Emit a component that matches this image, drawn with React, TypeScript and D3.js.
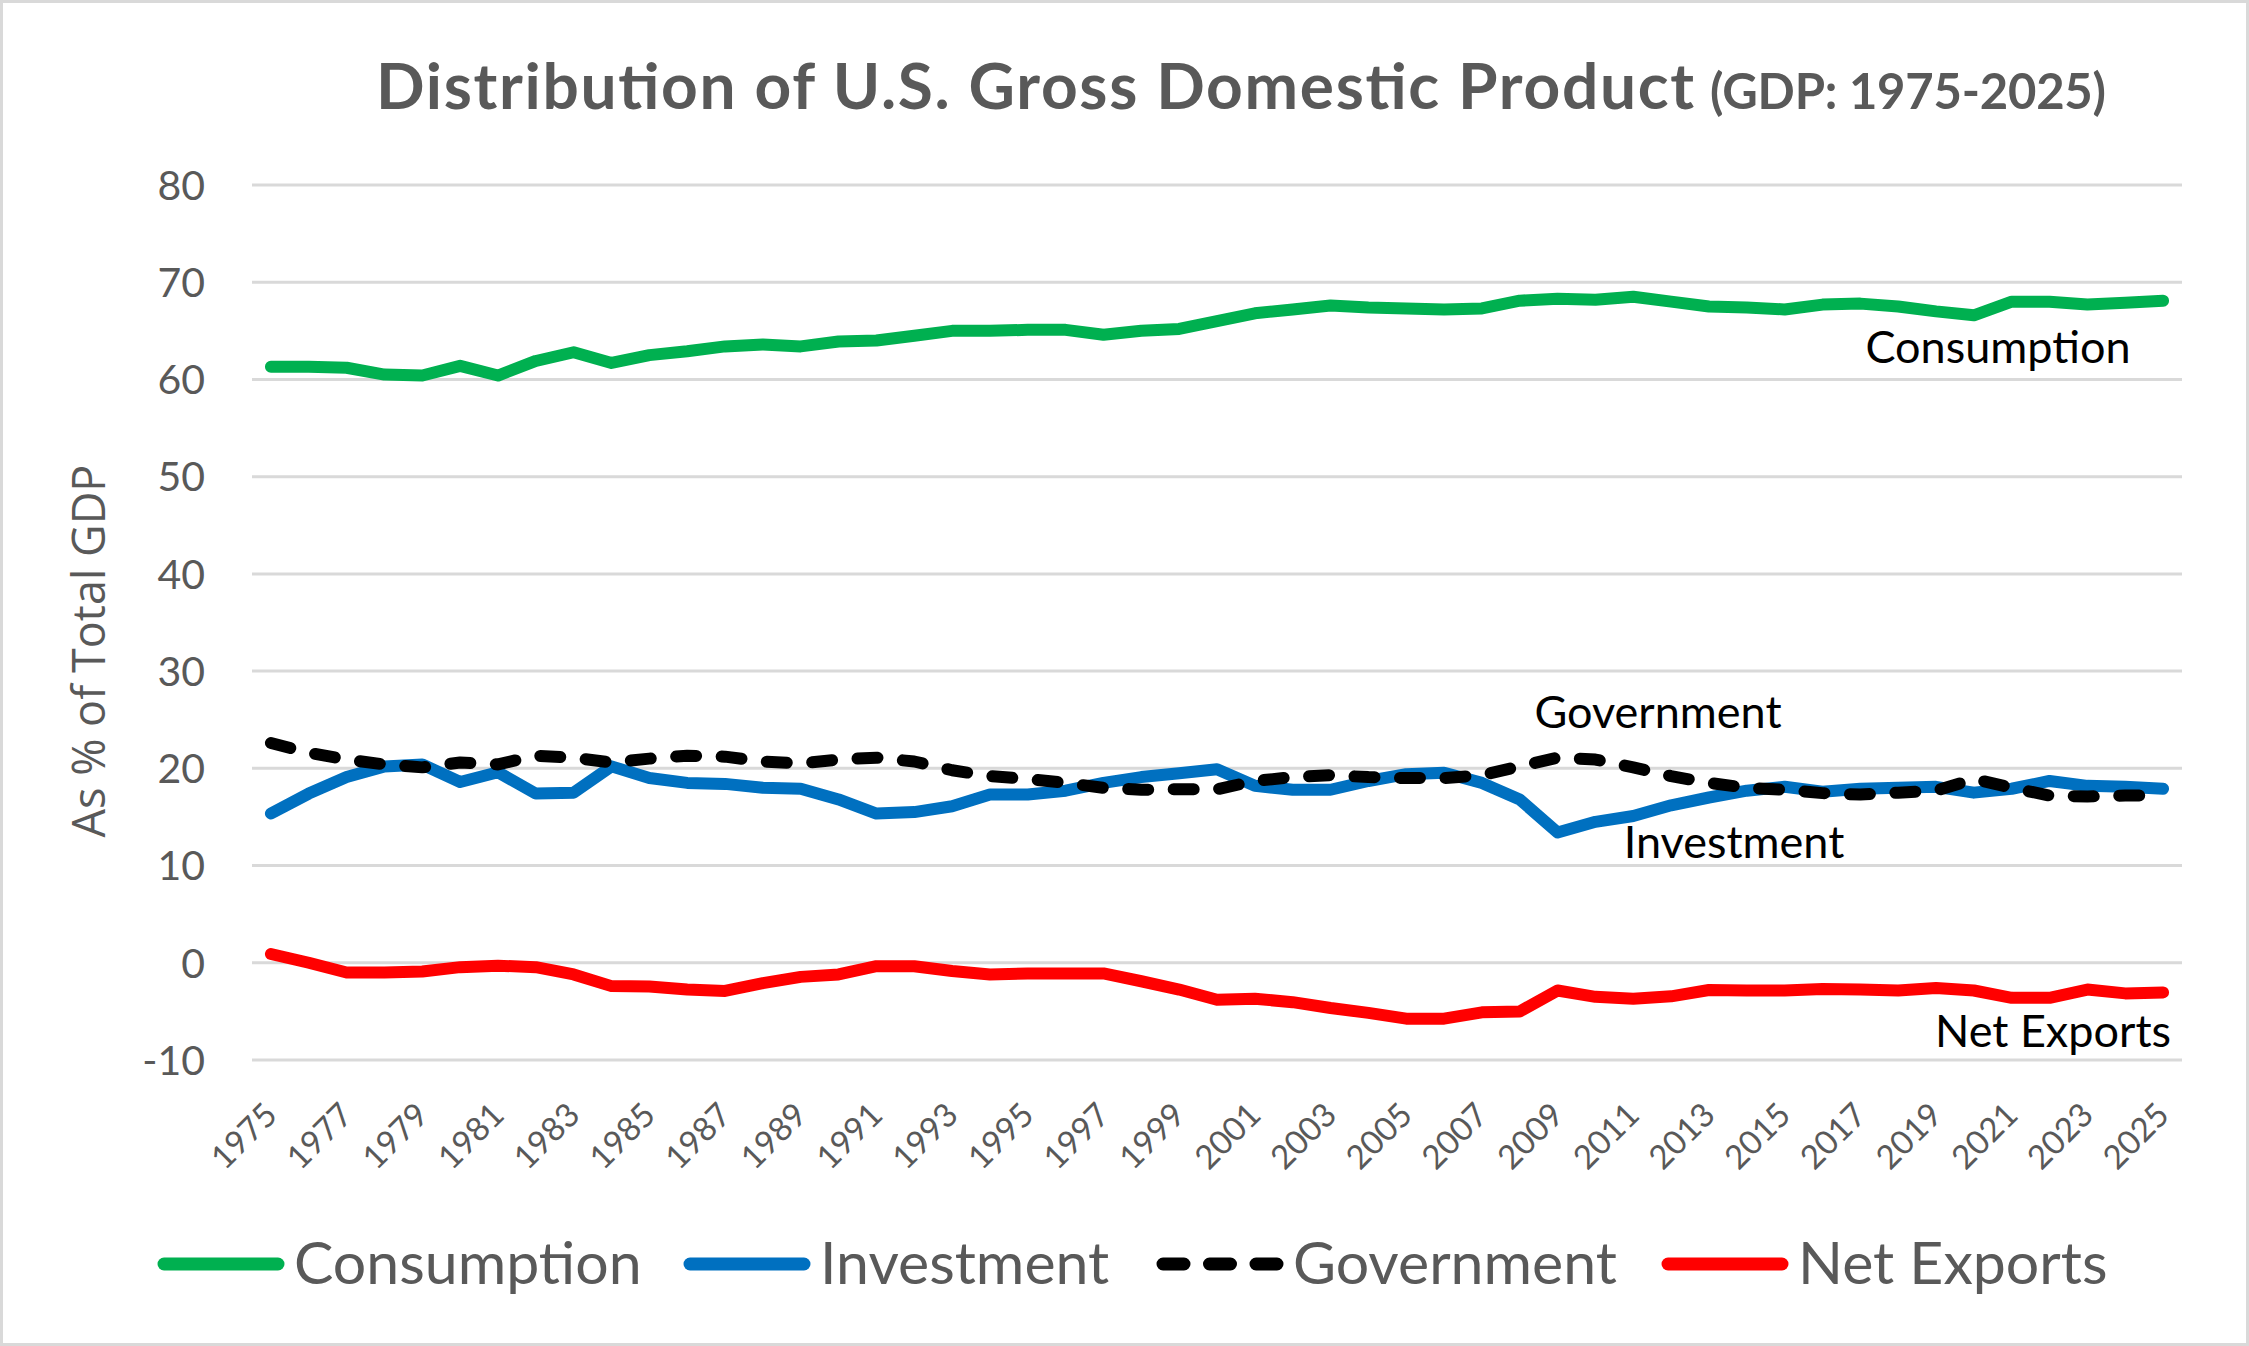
import * as d3 from "d3";

const width = 2249;
const height = 1346;

// categories
const years = d3.range(1975, 2026);
const tickYears = [
  "1975", "1977", "1979", "1981", "1983", "1985", "1987", "1989", "1991",
  "1993", "1995", "1997", "1999", "2001", "2003", "2005", "2007", "2009",
  "2011", "2013", "2015", "2017", "2019", "2021", "2023", "2025",
];
const yTicks = [-10, 0, 10, 20, 30, 40, 50, 60, 70, 80];

// series values, % of GDP
const consumption = [
  61.3, 61.3, 61.2, 60.5, 60.4, 61.4, 60.4, 61.9, 62.8, 61.7,
  62.5, 62.9, 63.4, 63.6, 63.4, 63.9, 64.0, 64.5, 65.0, 65.0,
  65.1, 65.1, 64.6, 65.0, 65.2, 66.0, 66.8, 67.2, 67.6, 67.4,
  67.3, 67.2, 67.3, 68.1, 68.3, 68.2, 68.5, 68.0, 67.5, 67.4,
  67.2, 67.7, 67.8, 67.5, 67.0, 66.6, 68.0, 68.0, 67.7, 67.9,
  68.1,
];
const investment = [
  15.35, 17.4, 19.1, 20.2, 20.4, 18.6, 19.6, 17.4, 17.5, 20.2,
  19.0, 18.5, 18.4, 18.0, 17.9, 16.8, 15.35, 15.5, 16.1, 17.3,
  17.3, 17.7, 18.5, 19.1, 19.5, 19.9, 18.2, 17.8, 17.8, 18.7,
  19.4, 19.55, 18.5, 16.8, 13.4, 14.5, 15.1, 16.2, 17.0, 17.7,
  18.1, 17.6, 17.9, 18.0, 18.1, 17.5, 17.9, 18.7, 18.2, 18.1,
  17.9,
];
const government = [
  22.6, 21.6, 20.9, 20.4, 20.1, 20.6, 20.4, 21.3, 21.1, 20.6,
  21.0, 21.3, 21.2, 20.7, 20.5, 20.9, 21.1, 20.7, 19.8, 19.2,
  18.9, 18.5, 18.0, 17.8, 17.85, 17.85, 18.7, 19.1, 19.3, 19.1,
  19.0, 19.0, 19.3, 20.2, 21.1, 20.9, 20.1, 19.2, 18.5, 18.0,
  17.8, 17.45, 17.3, 17.5, 17.7, 18.9, 18.0, 17.2, 17.1, 17.2,
  17.2,
];
const netExports = [
  0.9, 0.0, -1.0, -1.0, -0.9, -0.45, -0.3, -0.45, -1.2, -2.4,
  -2.45, -2.75, -2.9, -2.1, -1.45, -1.2, -0.35, -0.35, -0.85, -1.2,
  -1.1, -1.1, -1.1, -1.9, -2.75, -3.8, -3.7, -4.05, -4.65, -5.15,
  -5.75, -5.75, -5.1, -5.0, -2.85, -3.5, -3.7, -3.45, -2.8, -2.85,
  -2.85, -2.7, -2.75, -2.85, -2.6, -2.85, -3.6, -3.6, -2.75, -3.15,
  -3.05,
];

const seriesNames = ["Consumption", "Investment", "Government", "Net Exports"];

const font = "Lato, 'Open Sans', sans-serif";
const grey = "#595959";

const series = [
  { name: seriesNames[0], values: consumption, color: "#00B050", dash: null },
  { name: seriesNames[1], values: investment, color: "#0070C0", dash: null },
  { name: seriesNames[2], values: government, color: "#000000", dash: "20 25.5" },
  { name: seriesNames[3], values: netExports, color: "#FF0000", dash: null },
];

// in-plot labels: [name, centre x, baseline y]
const labelSpots: Array<[string, number, number]> = [
  [seriesNames[0], 1998, 363],
  [seriesNames[2], 1658, 728],
  [seriesNames[1], 1734, 858],
  [seriesNames[3], 2053, 1047],
];

const legendX = [158, 684, 1157, 1662];

export default function App() {
  const x = d3
    .scalePoint<number>()
    .domain(years)
    .range([252, 2182])
    .padding(0.5);
  const y = d3.scaleLinear().domain([-10, 80]).range([1060, 185]);

  const line = d3
    .line<number>()
    .x((_, i) => x(years[i]) as number)
    .y((d) => y(d));

  return (
    <svg
      width={width}
      height={height}
      style={{ position: "absolute", left: 0, top: 0, display: "block" }}
      fontFamily={font}
    >
      <rect x={0} y={0} width={width} height={height} fill="#fff" />
      <rect
        x={1.5}
        y={1.5}
        width={width - 3}
        height={height - 3}
        fill="none"
        stroke="#d9d9d9"
        strokeWidth={3}
      />

      {/* title */}
      <text
        x={376}
        y={109}
        fontSize={64}
        fontWeight="bold"
        fill={grey}
        textLength={1318}
        lengthAdjust="spacing"
      >
        Distribution of U.S. Gross Domestic Product
      </text>
      <text
        x={1710}
        y={109}
        fontSize={49}
        fontWeight="bold"
        fill={grey}
        textLength={396}
        lengthAdjust="spacing"
      >
        (GDP: 1975-2025)
      </text>

      {/* grid + y ticks */}
      {yTicks.map((t) => (
        <g key={t}>
          <line
            x1={252}
            x2={2182}
            y1={y(t)}
            y2={y(t)}
            stroke="#d9d9d9"
            strokeWidth={3}
          />
          <text
            x={205}
            y={y(t)}
            dy="0.36em"
            textAnchor="end"
            fontSize={41}
            fill={grey}
          >
            {t}
          </text>
        </g>
      ))}

      <text
        transform={`translate(105,651) rotate(-90)`}
        textAnchor="middle"
        fontFamily="'Open Sans', sans-serif"
        fontSize={45}
        fill={grey}
      >
        As % of Total GDP
      </text>

      {/* x tick labels */}
      {tickYears.map((t) => (
        <text
          key={t}
          transform={`translate(${(x(+t) as number) + 8},1117) rotate(-45)`}
          textAnchor="end"
          fontSize={33}
          fill={grey}
        >
          {t}
        </text>
      ))}

      {/* series */}
      {series.map((s) => (
        <path
          key={s.name}
          d={line(s.values) ?? undefined}
          fill="none"
          stroke={s.color}
          strokeWidth={12}
          strokeLinecap="round"
          strokeLinejoin="round"
          strokeDasharray={s.dash ?? undefined}
        />
      ))}

      {labelSpots.map(([name, lx, ly]) => (
        <text
          key={name}
          x={lx}
          y={ly}
          textAnchor="middle"
          fontSize={45}
          fill="#000"
        >
          {name}
        </text>
      ))}

      {/* legend */}
      {series.map((s, i) => (
        <g key={s.name} transform={`translate(${legendX[i]},1264)`}>
          <line
            x1={6}
            x2={120}
            y1={0}
            y2={0}
            stroke={s.color}
            strokeWidth={13}
            strokeLinecap="round"
            strokeDasharray={s.dash ? "21 25.5" : undefined}
          />
          <text x={136} y={20} fontSize={59} fill={grey}>
            {s.name}
          </text>
        </g>
      ))}
    </svg>
  );
}
